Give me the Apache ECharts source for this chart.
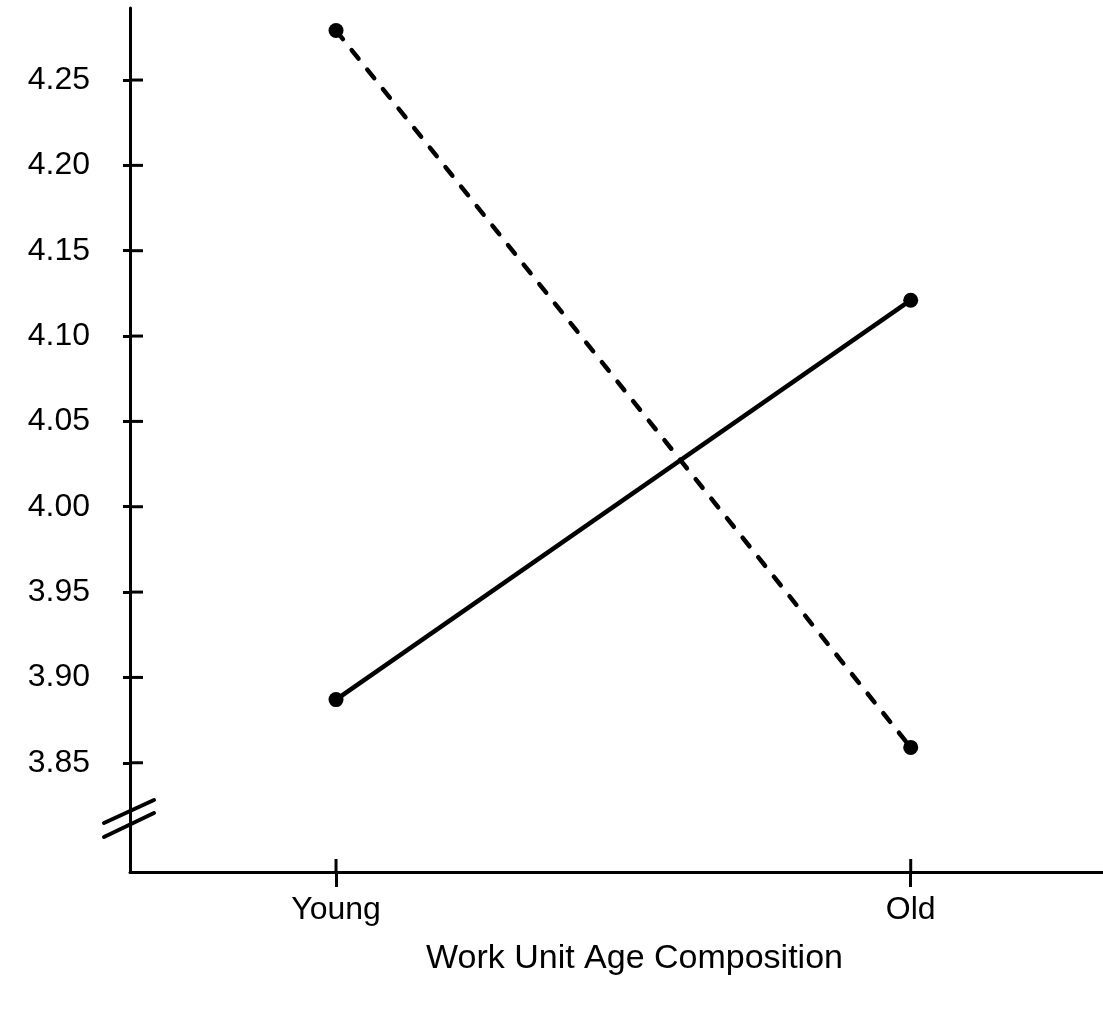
<!DOCTYPE html>
<html>
<head>
<meta charset="utf-8">
<script src="https://cdn.jsdelivr.net/npm/echarts@6/dist/echarts.min.js"></script>
<style>
html,body{margin:0;padding:0;background:#fff;}
#chart{width:1103px;height:1009px;}
</style>
</head>
<body>
<div id="chart"></div>
<script>
var categories = ['Young', 'Old'];
var solidValues = [3.887, 4.121];
var dashedValues = [4.279, 3.859];
var yTickValues = [3.85, 3.90, 3.95, 4.00, 4.05, 4.10, 4.15, 4.20, 4.25];
var xTitle = 'Work Unit Age Composition';

var FONT = '"Liberation Sans", Arial, Helvetica, sans-serif';
var xIdx = categories.map(function (c, i) { return i; });
function toPairs(vals) { return vals.map(function (v, i) { return [xIdx[i], v]; }); }

var yMin = 3.786, yMax = 4.2922;
var xMin = -0.3585, xMax = 1.3346;
var GRID = {left: 130, right: 0, top: 8, bottom: 137};

var chart = echarts.init(document.getElementById('chart'), null, {renderer: 'canvas'});
chart.setOption({
  animation: false,
  backgroundColor: '#ffffff',
  grid: {left: GRID.left, right: GRID.right, top: GRID.top, bottom: GRID.bottom, containLabel: false},
  xAxis: [{
    type: 'value', min: xMin, max: xMax, position: 'bottom',
    axisLine: {show: true, onZero: false, lineStyle: {color: '#000', width: 3}},
    axisTick: {show: true, inside: false, length: 15, lineStyle: {color: '#000', width: 3}, customValues: xIdx},
    axisLabel: {show: true, customValues: xIdx, margin: 22, color: '#000', fontSize: 32, fontFamily: FONT,
      formatter: function (v) { return categories[Math.round(v)]; }},
    splitLine: {show: false},
    name: xTitle, nameLocation: 'middle', nameGap: 70,
    nameTextStyle: {color: '#000', fontSize: 34, fontFamily: FONT, padding: [0, 0, 0, 36]}
  }],
  yAxis: [{
    type: 'value', min: yMin, max: yMax, position: 'left',
    axisLine: {show: true, onZero: false, lineStyle: {color: '#000', width: 3}},
    axisTick: {show: true, inside: false, length: 7, lineStyle: {color: '#000', width: 3}, customValues: yTickValues},
    axisLabel: {show: true, customValues: yTickValues, margin: 40, color: '#000', fontSize: 32, fontFamily: FONT,
      formatter: function (v) { return v.toFixed(2); }},
    splitLine: {show: false}
  }],
  series: [{
    type: 'line', data: toPairs(solidValues),
    symbol: 'circle', symbolSize: 15,
    itemStyle: {color: '#000'},
    lineStyle: {color: '#000', width: 4.5, type: 'solid'},
    markLine: {
      silent: true, symbol: 'none', label: {show: false},
      lineStyle: {color: '#000', width: 3, type: 'solid'},
      data: []
    }
  }, {
    type: 'line', data: toPairs(dashedValues),
    symbol: 'circle', symbolSize: 15,
    itemStyle: {color: '#000'},
    lineStyle: {color: '#000', width: 4.5, type: [11, 14], cap: 'round'}
  }],
  graphic: [
    {type: 'line', shape: {x1: 104, y1: 823, x2: 154, y2: 800}, style: {stroke: '#000', lineWidth: 4, lineCap: 'round'}},
    {type: 'line', shape: {x1: 104, y1: 837, x2: 154, y2: 813}, style: {stroke: '#000', lineWidth: 4, lineCap: 'round'}}
  ]
});

// inward halves of the tick marks, placed through the library's own scale
function addInnerTicks() {
  var els = [];
  yTickValues.forEach(function (v) {
    var p = chart.convertToPixel({gridIndex: 0}, [xMin, v]);
    els.push({type: 'line', shape: {x1: p[0], y1: p[1], x2: p[0] + 13, y2: p[1]}, style: {stroke: '#000', lineWidth: 3}});
  });
  xIdx.forEach(function (i) {
    var p = chart.convertToPixel({gridIndex: 0}, [i, yMin]);
    els.push({type: 'line', shape: {x1: p[0], y1: p[1], x2: p[0], y2: p[1] - 13}, style: {stroke: '#000', lineWidth: 3}});
  });
  chart.setOption({graphic: [
    {type: 'line', shape: {x1: 104, y1: 823, x2: 154, y2: 800}, style: {stroke: '#000', lineWidth: 4, lineCap: 'round'}},
    {type: 'line', shape: {x1: 104, y1: 837, x2: 154, y2: 813}, style: {stroke: '#000', lineWidth: 4, lineCap: 'round'}},
    {type: 'group', children: els}
  ]}, {replaceMerge: ['graphic']});
}
addInnerTicks();
</script>
</body>
</html>
